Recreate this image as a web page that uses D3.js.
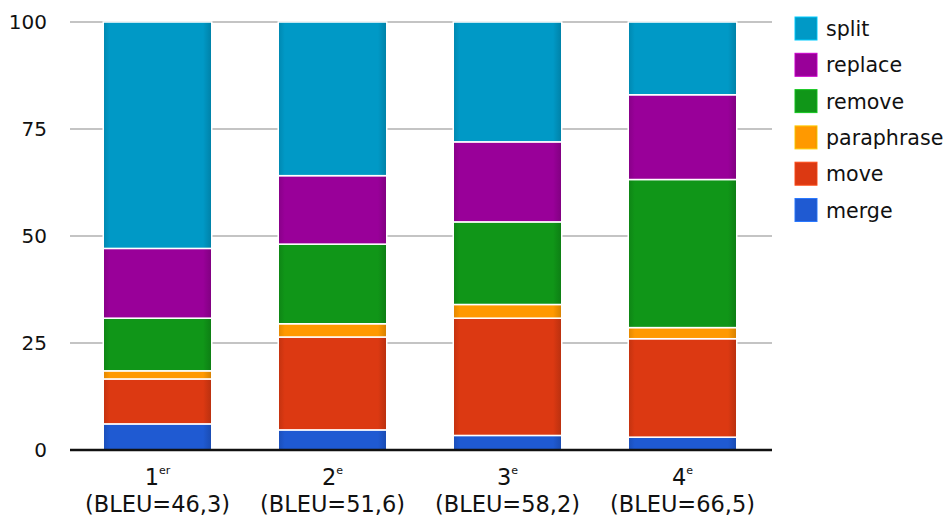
<!DOCTYPE html>
<html>
<head>
<meta charset="utf-8">
<script src="https://cdn.jsdelivr.net/npm/d3@7"></script>
<style>
  html, body { margin: 0; padding: 0; background: #fff; }
  svg { display: block; font-family: "DejaVu Sans", sans-serif; }
</style>
</head>
<body>
<svg id="chart" width="946" height="517"></svg>
<script>
// ---- data ----
const categories = ["1", "2", "3", "4"];
const categorySup = ["er", "e", "e", "e"];
const bleuLabels = ["(BLEU=46,3)", "(BLEU=51,6)", "(BLEU=58,2)", "(BLEU=66,5)"];
const seriesNames = ["merge", "move", "paraphrase", "remove", "replace", "split"];
const merge      = [6.1, 4.7, 3.4, 3.0];
const move       = [10.5, 21.7, 27.4, 23.0];
const paraphrase = [1.9, 3.1, 3.2, 2.6];
const remove     = [12.3, 18.6, 19.3, 34.6];
const replace    = [16.3, 16.0, 18.7, 19.8];
const split      = [52.9, 35.9, 28.0, 17.0];
const yTicks = [0, 25, 50, 75, 100];
const colors = ["#1f5ad2", "#dc3912", "#ff9900", "#109618", "#990099", "#0099c6"];

// ---- build table ----
const seriesValues = { merge, move, paraphrase, remove, replace, split };
const table = categories.map((c, i) => {
  const row = { cat: c };
  seriesNames.forEach(s => row[s] = seriesValues[s][i]);
  return row;
});

const svg = d3.select("#chart");
const x = d3.scaleBand().domain(categories).range([70, 770]).paddingInner(0.38).paddingOuter(0.19);
const y = d3.scaleLinear().domain([0, 100]).range([450, 22]);
const color = d3.scaleOrdinal().domain(seriesNames).range(colors);

// gridlines
svg.append("g").selectAll("line")
  .data(yTicks.filter(t => t > 0))
  .join("line")
  .attr("x1", 70).attr("x2", 772)
  .attr("y1", d => y(d)).attr("y2", d => y(d))
  .attr("stroke", "#c4c4c4").attr("stroke-width", 2);

// y labels
svg.append("g").selectAll("text")
  .data(yTicks)
  .join("text")
  .attr("x", 47).attr("y", d => y(d))
  .attr("text-anchor", "end")
  .attr("dominant-baseline", "central")
  .attr("font-size", 20)
  .attr("fill", "#111")
  .text(d => d);

// gradients for subtle shading
const defs = svg.append("defs");
seriesNames.forEach((s, i) => {
  const c = d3.color(colors[i]);
  const g = defs.append("linearGradient").attr("id", "g-" + s)
    .attr("x1", "0").attr("x2", "1").attr("y1", "0").attr("y2", "0");
  g.append("stop").attr("offset", "0%").attr("stop-color", c.darker(0.35));
  g.append("stop").attr("offset", "6%").attr("stop-color", c);
  g.append("stop").attr("offset", "92%").attr("stop-color", c);
  g.append("stop").attr("offset", "100%").attr("stop-color", c.darker(0.5));
});

// stacked bars
const stack = d3.stack().keys(seriesNames)(table);
svg.append("g").selectAll("g")
  .data(stack)
  .join("g")
  .attr("fill", d => "url(#g-" + d.key + ")")
  .selectAll("rect")
  .data(d => d)
  .join("rect")
  .attr("x", d => x(d.data.cat))
  .attr("width", x.bandwidth())
  .attr("y", d => y(d[1]))
  .attr("height", d => y(d[0]) - y(d[1]))
  .attr("stroke", "#fff")
  .attr("stroke-width", 1.5);

// baseline
svg.append("line")
  .attr("x1", 70).attr("x2", 772)
  .attr("y1", y(0)).attr("y2", y(0))
  .attr("stroke", "#111").attr("stroke-width", 2.5);

// x labels
const xl = svg.append("g").selectAll("g")
  .data(categories)
  .join("g")
  .attr("transform", d => `translate(${x(d) + x.bandwidth() / 2},0)`);
const t1 = xl.append("text")
  .attr("y", 485)
  .attr("text-anchor", "middle")
  .attr("font-size", 22.5)
  .attr("fill", "#111");
t1.append("tspan").text(d => d);
t1.append("tspan").attr("font-size", 11).attr("dy", -11).text((d, i) => categorySup[i]);
xl.append("text")
  .attr("y", 512)
  .attr("text-anchor", "middle")
  .attr("font-size", 22.5)
  .attr("fill", "#111")
  .text((d, i) => bleuLabels[i]);

// legend (reverse order)
const legendOrder = seriesNames.slice().reverse();
const lg = svg.append("g").selectAll("g")
  .data(legendOrder)
  .join("g")
  .attr("transform", (d, i) => `translate(795,${17 + i * 36.3})`);
lg.append("rect")
  .attr("width", 22).attr("height", 23)
  .attr("fill", d => "url(#g-" + d + ")")
  .attr("stroke", d => d3.color(color(d)).brighter(0.8))
  .attr("stroke-width", 1);
lg.append("text")
  .attr("x", 31).attr("y", 12)
  .attr("dominant-baseline", "central")
  .attr("font-size", 20.6)
  .attr("fill", "#111")
  .text(d => d);
</script>
</body>
</html>
